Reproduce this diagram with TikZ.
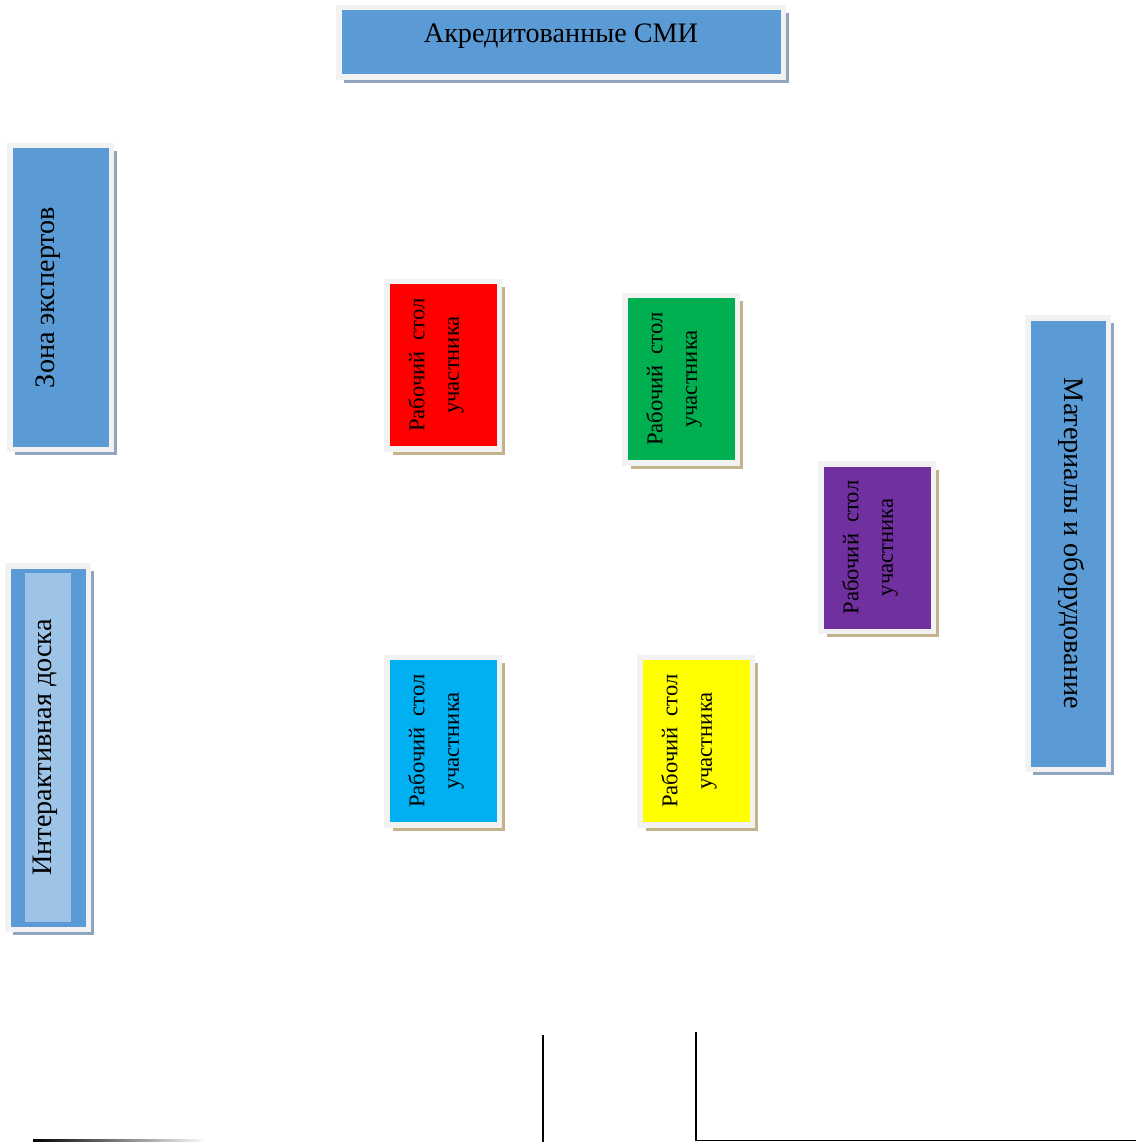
\documentclass[tikz,border=0pt]{standalone}
\usepackage{fontspec}
\setmainfont{Liberation Serif}
\usepackage{tikz}
\usetikzlibrary{shadows}

\definecolor{zoneblue}{HTML}{5B9BD5}
\definecolor{boardlight}{HTML}{9DC3E6}
\definecolor{framegray}{HTML}{F2F2F2}
\definecolor{blueshadow}{HTML}{8FA5C0}
\definecolor{tanshadow}{HTML}{C3B38A}
\definecolor{deskred}{HTML}{FF0000}
\definecolor{deskgreen}{HTML}{00B050}
\definecolor{deskpurple}{HTML}{7030A0}
\definecolor{deskcyan}{HTML}{00B0F0}
\definecolor{deskyellow}{HTML}{FFFF00}

\tikzset{
  box/.style={draw=framegray, line width=5.5pt, inner sep=0pt},
  zone/.style={box, fill=zoneblue,
    drop shadow={shadow xshift=5.5pt, shadow yshift=-5.5pt, fill=blueshadow, opacity=1}},
  desk/.style={box, fill=#1, minimum width=112.5pt, minimum height=167.5pt,
    drop shadow={shadow xshift=6pt, shadow yshift=-6pt, fill=tanshadow, opacity=1}},
  bigtext/.style={font=\fontsize{28.2}{34}\selectfont, inner sep=0pt},
  desktext/.style={font=\fontsize{22.6}{34.5}\selectfont, align=center, rotate=90, inner sep=0pt}
}

\begin{document}
\begin{tikzpicture}[x=1pt, y=-1pt]
  \useasboundingbox (0,0) rectangle (1136,1142);

  % zones along the walls
  \node[zone, minimum width=444.5pt, minimum height=69.5pt] (media) at (561,42.5) {}; % top
  \node[bigtext, anchor=base] (mediatext) at (media.center) {Акредитованные СМИ};

  \node[zone, minimum width=101.5pt, minimum height=303.5pt] (experts) at (60.5,297.5) {}; % left
  \node[bigtext, rotate=90, anchor=base] (expertstext) at ([xshift=-6pt]experts.center) {Зона экспертов};

  \node[zone, minimum width=80.5pt, minimum height=363.5pt] (board) at (48,747.5) {}; % left
  \node[fill=boardlight, minimum width=46pt, minimum height=349pt, inner sep=0pt] (boardinner) at (board.center) {};
  \node[bigtext, rotate=90, anchor=base] (boardtext) at ([xshift=3pt]board.center) {Интерактивная доска};

  \node[zone, minimum width=80.5pt, minimum height=451.5pt] (materials) at (1068,543.5) {}; % right
  \node[bigtext, rotate=-90, anchor=base] (materialstext) at ([xshift=-4pt]materials.center) {Материалы и оборудование};

  % participant desks
  \node[desk=deskred] (redtable) at (443,365) {};
  \node[desktext] (redtext) at ([xshift=-7pt]redtable.center) {Рабочий \ стол\\участника};
  \node[desk=deskgreen] (greentable) at (681,379) {};
  \node[desktext] (greentext) at ([xshift=-7pt]greentable.center) {Рабочий \ стол\\участника};
  \node[desk=deskpurple] (purpletable) at (877,547.5) {};
  \node[desktext] (purpletext) at ([xshift=-7pt]purpletable.center) {Рабочий \ стол\\участника};
  \node[desk=deskcyan] (cyantable) at (443,741) {};
  \node[desktext] (cyantext) at ([xshift=-7pt]cyantable.center) {Рабочий \ стол\\участника};
  \node[desk=deskyellow] (yellowtable) at (696,741) {};
  \node[desktext] (yellowtext) at ([xshift=-7pt]yellowtable.center) {Рабочий \ стол\\участника};

  % walls at the bottom
  \shade[left color=black, right color=white] (33,1139.5) rectangle (207,1141.8);
  \draw[line width=1.5pt] (543,1035) -- (543,1142);
  \draw[line width=1.8pt] (696,1032) -- (696,1140.5) -- (1136,1140.5);
\end{tikzpicture}
\end{document}
